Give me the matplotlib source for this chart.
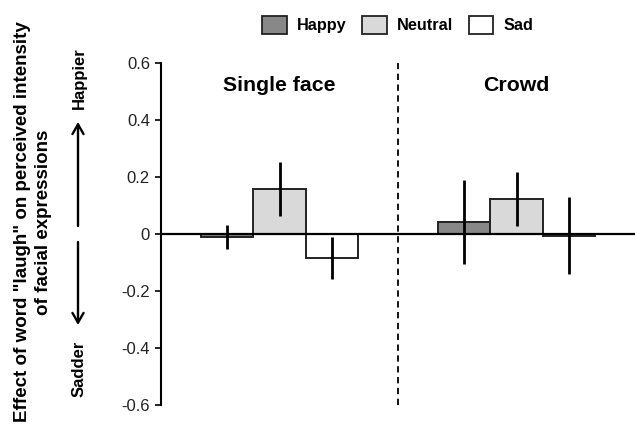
import matplotlib.pyplot as plt
from matplotlib.patches import Patch
import numpy as np

plt.rcParams['font.family'] = ['Liberation Sans', 'DejaVu Sans']

# data
groups = ["Single face", "Crowd"]
conditions = ["Happy", "Neutral", "Sad"]
colors = ["#888888", "#d9d9d9", "#ffffff"]
happy = [-0.010, 0.041]
neutral = [0.158, 0.123]
sad = [-0.084, -0.006]
happy_err = [0.042, 0.148]
neutral_err = [0.095, 0.095]
sad_err = [0.073, 0.136]

values = [happy, neutral, sad]
errors = [happy_err, neutral_err, sad_err]

fig = plt.figure(figsize=(6.35, 4.25), dpi=100)
ax = fig.add_axes([161 / 635, 1 - 405 / 425, 1 - 161 / 635, (405 - 63) / 425])

x = np.arange(len(groups))
w = 0.222
for i, cond in enumerate(conditions):
    xs = x + (i - 1) * w
    ax.bar(xs, values[i], width=w, color=colors[i], edgecolor="#222222",
           linewidth=1.4, label=cond, zorder=2)
    ax.errorbar(xs, values[i], yerr=errors[i], fmt="none", ecolor="black",
                elinewidth=2.0, capsize=0, zorder=3)

ax.axhline(0, color="black", lw=1.6, zorder=4)
ax.plot([0.5, 0.5], [-0.6, 0.6], color="black", lw=1.3,
        ls=(0, (3.5, 2.5)), zorder=1)

for xi, g in zip(x, groups):
    ax.text(xi, 0.52, g, ha="center", va="center", fontsize=15.3,
            fontweight="bold")

ax.set_xlim(-0.5, 1.5)
ax.set_ylim(-0.6, 0.6)
ticks = [0.6, 0.4, 0.2, 0, -0.2, -0.4, -0.6]
ax.set_yticks(ticks)
ax.set_yticklabels(["0.6", "0.4", "0.2", "0", "-0.2", "-0.4", "-0.6"],
                   fontsize=12, color="#222222")
ax.set_xticks([])
for s in ["top", "right", "bottom"]:
    ax.spines[s].set_visible(False)
ax.spines["left"].set_linewidth(1.5)
ax.spines["left"].set_bounds(-0.6, 0.6)
ax.tick_params(axis="y", length=4, width=1.2, pad=4)

# legend on top
handles = [Patch(facecolor=c, edgecolor="#222222", linewidth=1.3) for c in colors]
fig.legend(handles, conditions, loc="center", bbox_to_anchor=(398 / 635, 1 - 25 / 425),
           ncol=3, frameon=False, prop={"weight": "bold", "size": 11.7},
           handlelength=1.5, handleheight=1.35, handletextpad=0.65,
           columnspacing=0.95)

# y label
fig.text(33 / 635, 1 - 222 / 425,
         'Effect of word "laugh" on perceived intensity\nof facial expressions',
         rotation=90, ha="center", va="center", fontsize=13.5,
         fontweight="bold", linespacing=1.32, multialignment="center")

fig.text(79 / 635, 1 - 78 / 425, "Happier", rotation=90, ha="center",
         va="center", fontsize=12, fontweight="bold")
fig.text(79 / 635, 1 - 369 / 425, "Sadder", rotation=90, ha="center",
         va="center", fontsize=12, fontweight="bold")

arrow = dict(arrowstyle="->,head_length=0.7,head_width=0.4", lw=1.7,
             color="black", shrinkA=0, shrinkB=0)
ax.annotate("", xy=(78 / 635, 1 - 122 / 425), xytext=(78 / 635, 1 - 226 / 425),
            xycoords="figure fraction", arrowprops=arrow)
ax.annotate("", xy=(78 / 635, 1 - 325 / 425), xytext=(78 / 635, 1 - 242 / 425),
            xycoords="figure fraction", arrowprops=arrow)

fig.savefig("out.png", dpi=100)
